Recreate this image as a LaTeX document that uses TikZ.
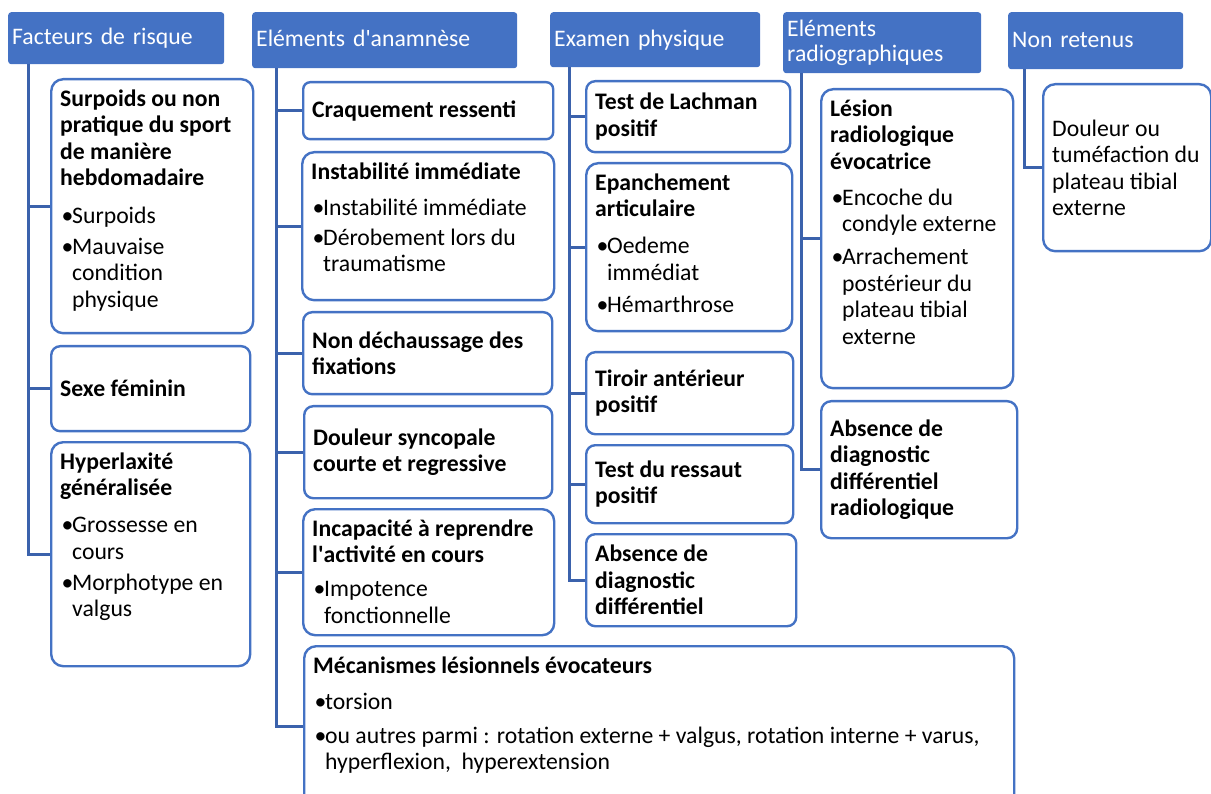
\documentclass[tikz,border=0pt]{standalone}
\usepackage{fontspec}
\setmainfont{Carlito}
\definecolor{hdrblue}{HTML}{4472C4}
\definecolor{boxblue}{HTML}{4472C4}
\definecolor{linkblue}{HTML}{3B62AC}

% box contents: top aligned or centred
\newcommand{\topstrut}{\rule{0pt}{27pt}}
\newcommand{\bu}{\makebox[12pt][l]{\hspace{1.5pt}•}}
\newcommand{\bi}{\hspace*{12pt}}
\newcommand{\toptxt}[3]{\parbox[c][#2pt][t]{#1pt}{\raggedright\topstrut#3}}
\newcommand{\midtxt}[3]{\parbox[c][#2pt][c]{#1pt}{\raggedright#3}}

\begin{document}
\begin{tikzpicture}[x=1pt, y=-1pt,
    hdr/.style={fill=hdrblue, text=white, rounded corners=3pt, anchor=north west,
      inner xsep=4pt, inner ysep=0pt, align=left, font=\fontsize{23.7}{25}\selectfont},
    onerow/.style={text height=19pt, text depth=6pt},
    box/.style={draw=boxblue, line width=2.4pt, fill=white, rounded corners=12pt,
      anchor=north west, inner xsep=9pt, inner ysep=0pt,
      font=\fontsize{23.7}{26.5}\selectfont},
    link/.style={draw=linkblue, line width=3pt}]
  \useasboundingbox (0,0) rectangle (1211,794);

  % Column headers
  \node[hdr, onerow, text width=208pt, minimum height=52pt] (risque) at (8,12) {Facteurs de risque};
  \node[hdr, onerow, text width=257pt, minimum height=56pt] (anamnese) at (252,12) {Eléments d\textquotesingle anamnèse};
  \node[hdr, onerow, text width=202pt, minimum height=55pt] (examen) at (550,12) {Examen physique};
  \node[hdr, text width=190pt, minimum height=61pt] (radio) at (783,12) {Eléments\\ radiographiques};
  \node[hdr, onerow, text width=167pt, minimum height=57pt] (nonret) at (1008,12) {Non retenus};

  % Facteurs de risque
  \node[box] (surpoids) at (50,78) {\toptxt{184}{254}{{\bfseries Surpoids ou non\\ pratique du sport\\ de manière\\ hebdomadaire}\\[11pt]
    \bu Surpoids\\[4.5pt] \bu Mauvaise\\ \bi condition\\ \bi physique}};
  \node[box, rounded corners=9pt] (sexe) at (50,345) {\midtxt{181}{85}{\bfseries Sexe féminin}};
  \node[box] (hyperlax) at (50,441) {\toptxt{181}{224}{{\bfseries Hyperlaxité\\ généralisée}\\[10.5pt]
    \bu Grossesse en\\ \bi cours\\[4.5pt] \bu Morphotype en\\ \bi valgus}};

  % Eléments d'anamnèse
  \node[box, rounded corners=7pt] (craquement) at (302,81) {\midtxt{232}{57}{\bfseries Craquement ressenti}};
  \node[box] (instab) at (301,151) {\toptxt{234}{148}{{\bfseries Instabilité immédiate}\\[9.5pt]
    \bu Instabilité immédiate\\[3.5pt] \bu Dérobement lors du\\ \bi traumatisme}};
  \node[box, rounded corners=9pt] (dechauss) at (302,311) {\midtxt{231}{82}{\bfseries Non déchaussage des\\ fixations}};
  \node[box, rounded corners=9pt] (syncope) at (303,405) {\midtxt{230}{92}{\bfseries Douleur syncopale\\ courte et regressive}};
  \node[box] (incapac) at (302,508) {\toptxt{233}{126}{{\bfseries Incapacité à reprendre\\ l\textquotesingle activité en cours}\\[7.5pt]
    \bu Impotence\\ \bi fonctionnelle}};
  \node[box] (mecanism) at (303,645) {\toptxt{692}{160}{{\bfseries Mécanismes lésionnels évocateurs}\\[9.5pt]
    \bu torsion\\[7.5pt] \bu ou autres parmi : rotation externe + valgus, rotation interne + varus,\\
    \bi hyperflexion,~ hyperextension}};

  % Examen physique
  \node[box, rounded corners=9pt] (lachman) at (585,80) {\midtxt{186}{71}{\bfseries Test de Lachman\\ positif}};
  \node[box] (epanch) at (585,162) {\toptxt{188}{168}{{\bfseries Epanchement\\ articulaire}\\[10.5pt]
    \bu Oedeme\\ \bi immédiat\\[5.5pt] \bu Hémarthrose}};
  \node[box, rounded corners=9pt] (tiroir) at (585,351) {\midtxt{189}{82}{\bfseries Tiroir antérieur\\ positif}};
  \node[box, rounded corners=9pt] (ressaut) at (585,444) {\midtxt{189}{78}{\bfseries Test du ressaut\\ positif}};
  \node[box, rounded corners=9pt] (absdiag) at (585,533) {\midtxt{192}{92}{\bfseries Absence de\\ diagnostic\\ différentiel}};

  % Eléments radiographiques
  \node[box] (lesion) at (820,88) {\toptxt{174}{299}{{\bfseries Lésion\\ radiologique\\ évocatrice}\\[9.5pt]
    \bu Encoche du\\ \bi condyle externe\\[6.5pt] \bu Arrachement\\ \bi postérieur du\\ \bi plateau tibial\\ \bi externe}};
  \node[box, rounded corners=10pt] (absradio) at (820,400) {\midtxt{178}{137}{\bfseries Absence de\\ diagnostic\\ différentiel\\ radiologique}};

  % Non retenus
  \node[box] (tumef) at (1042,83) {\midtxt{150}{167}{Douleur ou\\ tuméfaction du\\ plateau tibial\\ externe}};

  % Links
  \draw[link] ([xshift=20pt]risque.south west) |- (surpoids.west);
  \draw[link] ([xshift=20pt]risque.south west) |- (sexe.west);
  \draw[link] ([xshift=20pt]risque.south west) |- (hyperlax.west);
  \draw[link] ([xshift=24pt]anamnese.south west) |- (craquement.west);
  \draw[link] ([xshift=24pt]anamnese.south west) |- (instab.west);
  \draw[link] ([xshift=24pt]anamnese.south west) |- (dechauss.west);
  \draw[link] ([xshift=24pt]anamnese.south west) |- (syncope.west);
  \draw[link] ([xshift=24pt]anamnese.south west) |- (incapac.west);
  \draw[link] ([xshift=24pt]anamnese.south west) |- (mecanism.west);
  \draw[link] ([xshift=19pt]examen.south west) |- (lachman.west);
  \draw[link] ([xshift=19pt]examen.south west) |- (epanch.west);
  \draw[link] ([xshift=19pt]examen.south west) |- (tiroir.west);
  \draw[link] ([xshift=19pt]examen.south west) |- (ressaut.west);
  \draw[link] ([xshift=19pt]examen.south west) |- (absdiag.west);
  \draw[link] ([xshift=18pt]radio.south west) |- (lesion.west);
  \draw[link] ([xshift=18pt]radio.south west) |- (absradio.west);
  \draw[link] ([xshift=16pt]nonret.south west) |- (tumef.west);
\end{tikzpicture}
\end{document}
